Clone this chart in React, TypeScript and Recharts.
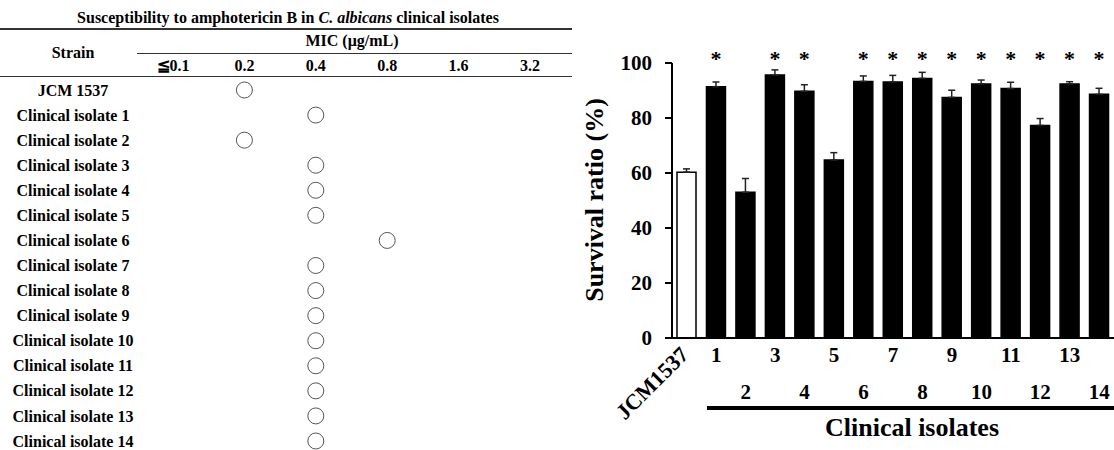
import React from "react";
import {
  ScatterChart,
  Scatter,
  BarChart,
  Bar,
  XAxis,
  YAxis,
  Cell,
  ErrorBar,
  LabelList,
  Label,
} from "recharts";

const FONT = '"Liberation Serif", "Times New Roman", serif';

// left table: MIC of amphotericin B per strain
const micLevels = ["≦0.1", "0.2", "0.4", "0.8", "1.6", "3.2"];
const tableStrains = [
  "JCM 1537",
  "Clinical isolate 1",
  "Clinical isolate 2",
  "Clinical isolate 3",
  "Clinical isolate 4",
  "Clinical isolate 5",
  "Clinical isolate 6",
  "Clinical isolate 7",
  "Clinical isolate 8",
  "Clinical isolate 9",
  "Clinical isolate 10",
  "Clinical isolate 11",
  "Clinical isolate 12",
  "Clinical isolate 13",
  "Clinical isolate 14",
];
const strainMic = ["0.2", "0.4", "0.2", "0.4", "0.4", "0.4", "0.8", "0.4", "0.4", "0.4", "0.4", "0.4", "0.4", "0.4", "0.4"];

// right chart: survival ratio
const barStrains = ["JCM1537", "1", "2", "3", "4", "5", "6", "7", "8", "9", "10", "11", "12", "13", "14"];
const survival = [60.3, 91.4, 53.0, 95.6, 89.7, 64.7, 93.3, 93.1, 94.4, 87.5, 92.4, 90.7, 77.3, 92.4, 88.6];
const survivalSem = [1.2, 1.7, 5.0, 1.9, 2.4, 2.7, 2.0, 2.4, 2.2, 2.6, 1.4, 2.3, 2.5, 0.8, 2.2];
const significant = [false, true, false, true, true, false, true, true, true, true, true, true, true, true, true];

const micPoints = tableStrains.map((s, i) => ({
  strain: s,
  row: i,
  col: micLevels.indexOf(strainMic[i]),
}));

const barData = barStrains.map((s, i) => ({
  strain: s,
  survival: survival[i],
  err: [0, survivalSem[i]],
  star: significant[i] ? "*" : "",
}));

const bold = { fontFamily: FONT, fontWeight: "bold" as const, fill: "#000" };

function StrainTick(props: any) {
  const { y, payload } = props;
  return (
    <text x={73} y={y} dy="0.35em" textAnchor="middle" fontSize={16} {...bold}>
      {tableStrains[payload.value]}
    </text>
  );
}

function MicTick(props: any) {
  const { x, payload } = props;
  return (
    <text x={x} y={65} dy="0.35em" textAnchor="middle" fontSize={16} {...bold}>
      {micLevels[payload.value]}
    </text>
  );
}

function MicCircle(props: any) {
  const { cx, cy } = props;
  return <circle cx={cx} cy={cy} r={8} fill="#fff" stroke="#555" strokeWidth={1} />;
}

function StrainBarTick(props: any) {
  const { x, payload, index } = props;
  if (index === 0) {
    return (
      <text
        x={x + 3}
        y={356}
        textAnchor="end"
        fontSize={22}
        transform={`rotate(-45 ${x + 3} 356)`}
        {...bold}
      >
        {payload.value}
      </text>
    );
  }
  const y = index % 2 === 1 ? 355 : 392;
  return (
    <text x={x} y={y} dy="0.35em" textAnchor="middle" fontSize={21} {...bold}>
      {payload.value}
    </text>
  );
}

function Star(props: any) {
  const { x, width, value } = props;
  if (!value) return null;
  return (
    <text x={x + width / 2} y={66} textAnchor="middle" fontSize={22} {...bold}>
      {value}
    </text>
  );
}

const rule = (top: number, left: number, width: number, h: number) => (
  <div style={{ position: "absolute", top, left, width, height: h, background: "#333" }} />
);

const centered = (x: number, y: number, size: number): React.CSSProperties => ({
  position: "absolute",
  left: x,
  top: y,
  transform: "translate(-50%, -50%)",
  fontFamily: FONT,
  fontWeight: "bold",
  fontSize: size,
  lineHeight: 1,
  whiteSpace: "nowrap",
  color: "#000",
});

export default function App() {
  return (
    <div style={{ position: "absolute", left: 0, top: 0, width: 1114, height: 450, background: "#fff", overflow: "hidden" }}>
      {/* table */}
      <div style={{ position: "absolute", left: 0, top: 0, width: 580, height: 450 }}>
        <ScatterChart width={580} height={450} margin={{ top: 60, right: 50, bottom: 9, left: 0 }}>
          <XAxis
            type="number"
            dataKey="col"
            orientation="top"
            domain={[0, 5]}
            ticks={[0, 1, 2, 3, 4, 5]}
            interval={0}
            height={30}
            axisLine={false}
            tickLine={false}
            tick={<MicTick />}
          />
          <YAxis
            type="number"
            dataKey="row"
            domain={[0, 14]}
            ticks={tableStrains.map((_, i) => i)}
            interval={0}
            reversed
            width={173}
            axisLine={false}
            tickLine={false}
            tick={<StrainTick />}
          />
          <Scatter data={micPoints} shape={<MicCircle />} isAnimationActive={false} />
        </ScatterChart>
        <div style={centered(288, 18, 16)}>
          Susceptibility to amphotericin B in <i>C. albicans</i> clinical isolates
        </div>
        {rule(28, 0, 572, 1.5)}
        <div style={centered(73, 53, 16)}>Strain</div>
        <div style={centered(352, 41, 16)}>MIC (μg/mL)</div>
        {rule(52.5, 137, 435, 1)}
        {rule(75.5, 0, 572, 1.5)}
      </div>

      {/* bar chart */}
      <div style={{ position: "absolute", left: 580, top: 0, width: 534, height: 450 }}>
        <BarChart width={534} height={450} data={barData} margin={{ top: 63, right: 0, bottom: 0, left: 0 }} barSize={19}>
          <XAxis
            dataKey="strain"
            height={112}
            interval={0}
            axisLine={{ stroke: "#000", strokeWidth: 2 }}
            tickLine={false}
            tick={<StrainBarTick />}
          />
          <YAxis
            domain={[0, 100]}
            ticks={[0, 20, 40, 60, 80, 100]}
            width={92}
            axisLine={{ stroke: "#000", strokeWidth: 2 }}
            tickLine={{ stroke: "#000", strokeWidth: 2 }}
            tickSize={7}
            tickMargin={13}
            tick={{ fontSize: 21, ...bold }}
          >
            <Label
              content={() => (
                <text
                  x={14}
                  y={200}
                  textAnchor="middle"
                  dominantBaseline="central"
                  fontSize={26}
                  transform="rotate(-90 14 200)"
                  {...bold}
                >
                  Survival ratio (%)
                </text>
              )}
            />
          </YAxis>
          <Bar dataKey="survival" stroke="#000" strokeWidth={1.5} isAnimationActive={false}>
            {barData.map((d, i) => (
              <Cell key={d.strain} fill={i === 0 ? "#fff" : "#000"} />
            ))}
            <ErrorBar dataKey="err" direction="y" width={3.5} stroke="#222" strokeWidth={1.5} />
            <LabelList dataKey="star" content={<Star />} />
          </Bar>
        </BarChart>
        <div style={{ position: "absolute", left: 127, top: 406, width: 420, height: 4, background: "#000" }} />
        <div style={centered(332, 428, 26)}>Clinical isolates</div>
      </div>
    </div>
  );
}
